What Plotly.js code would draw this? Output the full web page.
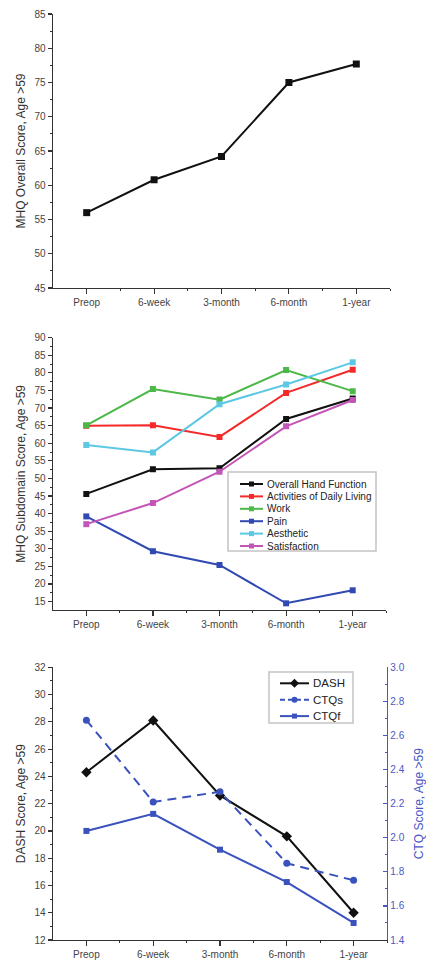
<!DOCTYPE html>
<html><head><meta charset="utf-8">
<script src="https://cdn.plot.ly/plotly-3.0.1.min.js"></script>
<style>html,body{margin:0;padding:0;background:#fff}#chart{width:426px;height:963px}</style>
</head><body><div id="chart"></div>
<script>
// ---- data ----
const categories = ['Preop', '6-week', '3-month', '6-month', '1-year'];
const mhqOverall = [56.0, 60.8, 64.2, 75.0, 77.7];
const subdomainNames = ['Overall Hand Function', 'Activities of Daily Living', 'Work', 'Pain', 'Aesthetic', 'Satisfaction'];
const overallHandFunction = [45.6, 52.6, 52.9, 66.9, 72.7];
const activitiesDailyLiving = [65.0, 65.1, 61.8, 74.3, 80.9];
const work = [65.1, 75.4, 72.4, 80.8, 74.8];
const pain = [39.2, 29.3, 25.4, 14.5, 18.2];
const aesthetic = [59.5, 57.4, 71.1, 76.7, 83.0];
const satisfaction = [37.0, 43.0, 51.9, 64.8, 72.3];
const ctqNames = ['DASH', 'CTQs', 'CTQf'];
const dashScore = [24.3, 28.1, 22.6, 19.6, 14.0];
const ctqs = [2.69, 2.21, 2.27, 1.85, 1.75];
const ctqf = [2.04, 2.14, 1.93, 1.74, 1.50];

// ---- styling ----
const FONT = 'Arial, "Liberation Sans", sans-serif';
const W = 426, H = 963, ML = 53, MR = 36, MT = 14, MB = 23;
const PW = W - ML - MR, PH = H - MT - MB;
const px2x = p => (p - ML) / PW;
const py2y = p => (H - MB - p) / PH;
const idx = categories.map((c, i) => i);
const AX = '#333';
const BLUE = '#3a52bd';
const RBLUE = '#4a58c4';
const subColors = ['#111111', '#f42a2a', '#4cb848', '#3149b2', '#5cc8e4', '#c455b8'];
const subSeries = [overallHandFunction, activitiesDailyLiving, work, pain, aesthetic, satisfaction];

function xAxis(domEnd, anchor) {
  return {
    domain: [0, domEnd], anchor: anchor, range: [-0.5, 4.5],
    tickmode: 'array', tickvals: idx, ticktext: categories,
    ticks: 'outside', ticklen: 5, tickwidth: 1.2, tickcolor: AX,
    showline: true, linecolor: AX, linewidth: 1.3,
    showgrid: false, zeroline: false,
    tickfont: {family: FONT, size: 10, color: '#444'},
    minor: {tickmode: 'array', tickvals: idx.map(i => i + 0.5), ticks: 'outside', ticklen: 2, tickwidth: 1, tickcolor: AX},
    fixedrange: true
  };
}
function yAxis(dom, anchor, range, dtick, minorD, title, color, tickDir, standoff) {
  color = color || AX;
  return {
    domain: dom, anchor: anchor, range: range, dtick: dtick,
    ticks: tickDir || 'outside', ticklen: 4, tickwidth: 1.2, tickcolor: color,
    showline: true, linecolor: color, linewidth: 1.3,
    showgrid: false, zeroline: false,
    tickfont: {family: FONT, size: 10, color: color === AX ? '#444' : color},
    minor: {dtick: minorD, ticks: tickDir || 'outside', ticklen: 2, tickwidth: 1, tickcolor: color},
    title: {text: title, font: {family: FONT, size: 12, color: color === AX ? '#333' : color}, standoff: standoff || 6},
    fixedrange: true
  };
}

const traces = [];
traces.push({x: idx, y: mhqOverall, xaxis: 'x', yaxis: 'y', mode: 'lines+markers',
  line: {color: '#111', width: 2}, marker: {symbol: 'square', size: 7, color: '#111'}, name: 'MHQ Overall'});

subdomainNames.forEach((n, k) => {
  traces.push({x: idx, y: subSeries[k], xaxis: 'x2', yaxis: 'y2', mode: 'lines+markers',
    name: n, line: {color: subColors[k], width: 2}, marker: {symbol: 'square', size: 6, color: subColors[k]}});
});

const ctqStyles = [
  {color: '#111', dash: 'solid', symbol: 'diamond', size: 8},
  {color: BLUE, dash: '9px,6px', symbol: 'circle', size: 7},
  {color: BLUE, dash: 'solid', symbol: 'square', size: 6}
];
const ctqSeries = [dashScore, ctqs, ctqf];
const ctqAxes = ['y3', 'y4', 'y4'];
ctqNames.forEach((n, k) => {
  const s = ctqStyles[k];
  traces.push({x: idx, y: ctqSeries[k], xaxis: 'x3', yaxis: ctqAxes[k], mode: 'lines+markers', name: n,
    line: {color: s.color, width: 2, dash: s.dash}, marker: {symbol: s.symbol, size: s.size, color: s.color}});
});

// ---- compact legends (drawn as shapes + text) ----
const shapes = [];
const annotations = [];
function legendBox(x0, x1, y0, y1) {
  shapes.push({type: 'rect', xref: 'paper', yref: 'paper', x0: px2x(x0), x1: px2x(x1), y0: py2y(y1), y1: py2y(y0),
    line: {color: '#c4c4c4', width: 1.5}, fillcolor: '#fff', layer: 'above'});
}
function legendItem(name, color, dash, symbol, yc, lx0, lx1, tx, ms, fs) {
  shapes.push({type: 'line', xref: 'paper', yref: 'paper', x0: px2x(lx0), x1: px2x(lx1), y0: py2y(yc), y1: py2y(yc),
    line: {color: color, width: 2, dash: dash}, layer: 'above'});
  const cx = (lx0 + lx1) / 2, h = ms / 2;
  if (symbol === 'square') {
    shapes.push({type: 'rect', xref: 'paper', yref: 'paper', x0: px2x(cx - h), x1: px2x(cx + h), y0: py2y(yc + h), y1: py2y(yc - h),
      line: {width: 0}, fillcolor: color, layer: 'above'});
  } else if (symbol === 'circle') {
    shapes.push({type: 'circle', xref: 'paper', yref: 'paper', x0: px2x(cx - h), x1: px2x(cx + h), y0: py2y(yc + h), y1: py2y(yc - h),
      line: {width: 0}, fillcolor: color, layer: 'above'});
  } else {
    const d = h + 1;
    shapes.push({type: 'path', xref: 'paper', yref: 'paper',
      path: 'M' + px2x(cx - d) + ',' + py2y(yc) + ' L' + px2x(cx) + ',' + py2y(yc - d) + ' L' + px2x(cx + d) + ',' + py2y(yc) + ' L' + px2x(cx) + ',' + py2y(yc + d) + ' Z',
      line: {width: 0}, fillcolor: color, layer: 'above'});
  }
  annotations.push({xref: 'paper', yref: 'paper', x: px2x(tx), y: py2y(yc), xanchor: 'left', yanchor: 'middle',
    text: name, showarrow: false, font: {family: FONT, size: fs, color: '#222'}});
}

legendBox(228, 376, 472, 551);
subdomainNames.forEach((n, k) => legendItem(n, subColors[k], 'solid', 'square', 484 + k * 12.4, 240, 263, 265, 5, 10));

legendBox(269, 353, 672, 723);
ctqNames.forEach((n, k) => {
  const s = ctqStyles[k];
  legendItem(n, s.color, s.dash === 'solid' ? 'solid' : '5px,3px', s.symbol, 683.3 + k * 16.4, 280, 309, 311, s.size - 1, 11.5);
});

const layout = {
  width: W, height: H, margin: {l: ML, r: MR, t: MT, b: MB},
  paper_bgcolor: '#fff', plot_bgcolor: '#fff',
  font: {family: FONT, size: 10, color: '#333'},
  showlegend: false,
  xaxis: xAxis(1.0, 'y'),
  yaxis: yAxis([py2y(288), py2y(14)], 'x', [45, 85], 5, 2.5, 'MHQ Overall Score, Age >59'),
  xaxis2: xAxis(px2x(386), 'y2'),
  yaxis2: yAxis([py2y(610), py2y(337.7)], 'x2', [12.6, 90], 5, 2.5, 'MHQ Subdomain Score, Age >59'),
  xaxis3: xAxis(px2x(387), 'y3'),
  yaxis3: yAxis([0, py2y(667.3)], 'x3', [12, 32], 2, 1, 'DASH Score, Age >59'),
  yaxis4: Object.assign(yAxis([0, py2y(667.3)], 'x3', [1.4, 3.0], 0.2, 0.1, 'CTQ Score, Age >59', RBLUE, 'inside', 12),
    {overlaying: 'y3', side: 'right', tickformat: '.1f'}),
  shapes: shapes,
  annotations: annotations
};

Plotly.newPlot('chart', traces, layout, {displayModeBar: false, staticPlot: true});
</script>
</body></html>
